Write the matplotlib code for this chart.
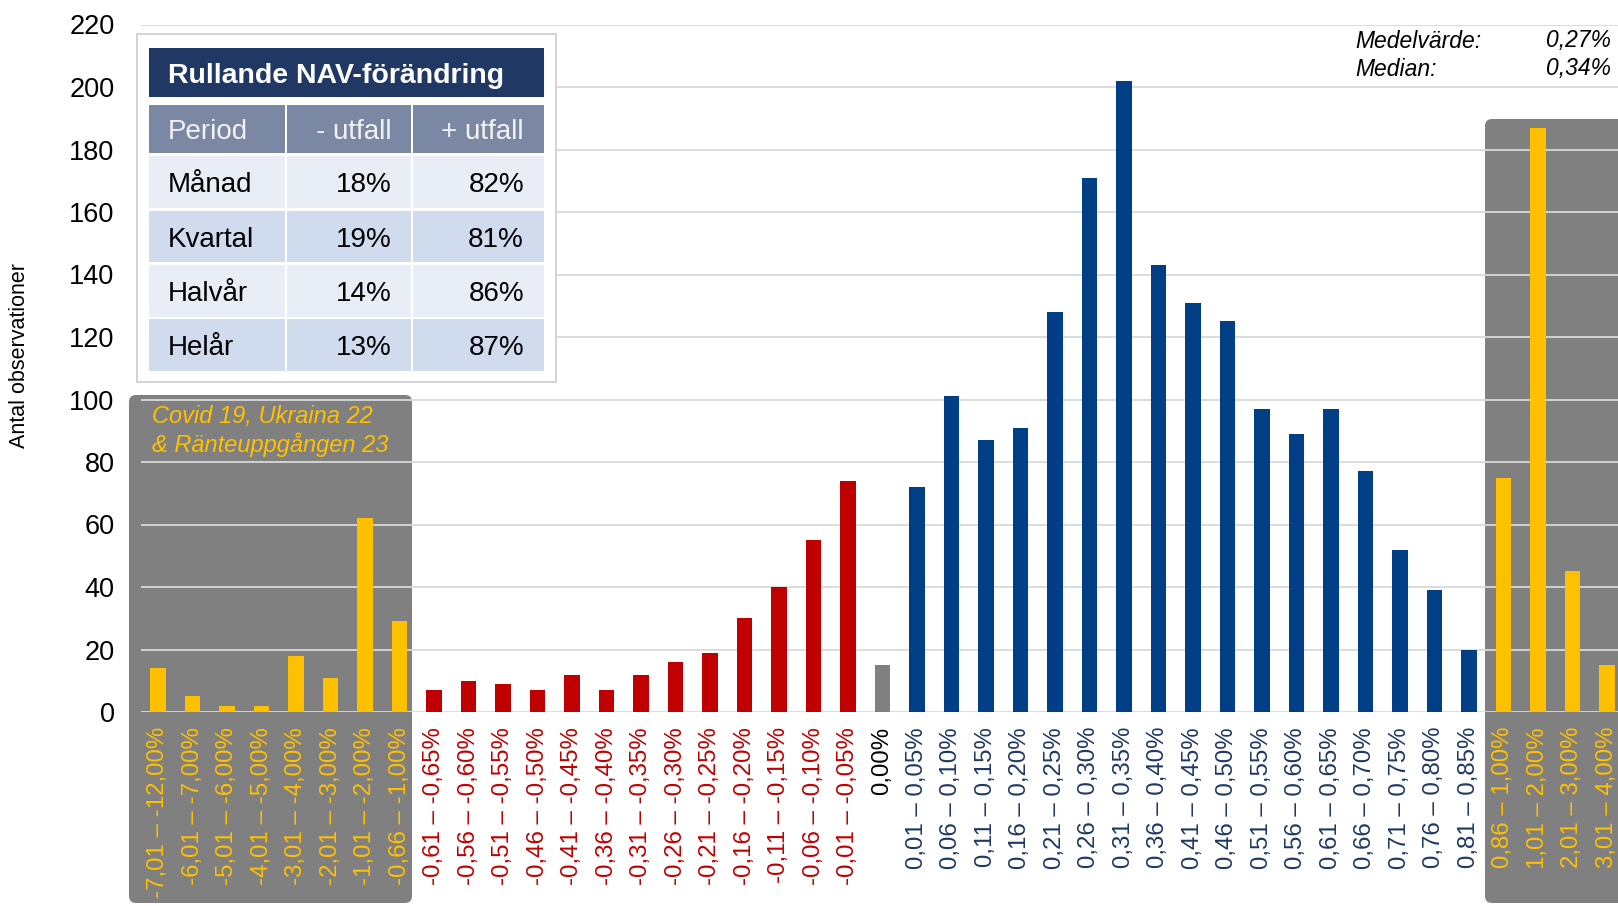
import numpy as np
import matplotlib
matplotlib.use('Agg')
import matplotlib.pyplot as plt
from matplotlib.patches import Rectangle, FancyBboxPatch

plt.rcParams['font.family'] = ['Liberation Sans', 'DejaVu Sans']

# ── data ─────────────────────────────────────────────────────
tail_neg_labels = ["-7,01 – -12,00%", "-6,01 – -7,00%", "-5,01 – -6,00%", "-4,01 – -5,00%",
                   "-3,01 – -4,00%", "-2,01 – -3,00%", "-1,01 – -2,00%", "-0,66 – -1,00%"]
tail_neg_counts = [14, 5, 2, 2, 18, 11, 62, 29]

neg_labels = ["-0,61 – -0,65%", "-0,56 – -0,60%", "-0,51 – -0,55%", "-0,46 – -0,50%",
              "-0,41 – -0,45%", "-0,36 – -0,40%", "-0,31 – -0,35%", "-0,26 – -0,30%",
              "-0,21 – -0,25%", "-0,16 – -0,20%", "-0,11 – -0,15%", "-0,06 – -0,10%",
              "-0,01 – -0,05%"]
neg_counts = [7, 10, 9, 7, 12, 7, 12, 16, 19, 30, 40, 55, 74]

zero_labels = ["0,00%"]
zero_counts = [15]

pos_labels = ["0,01 – 0,05%", "0,06 – 0,10%", "0,11 – 0,15%", "0,16 – 0,20%", "0,21 – 0,25%",
              "0,26 – 0,30%", "0,31 – 0,35%", "0,36 – 0,40%", "0,41 – 0,45%", "0,46 – 0,50%",
              "0,51 – 0,55%", "0,56 – 0,60%", "0,61 – 0,65%", "0,66 – 0,70%", "0,71 – 0,75%",
              "0,76 – 0,80%", "0,81 – 0,85%"]
pos_counts = [72, 101, 87, 91, 128, 171, 202, 143, 131, 125, 97, 89, 97, 77, 52, 39, 20]

tail_pos_labels = ["0,86 – 1,00%", "1,01 – 2,00%", "2,01 – 3,00%", "3,01 – 4,00%"]
tail_pos_counts = [75, 187, 45, 15]

table_title = "Rullande NAV-förändring"
table_head  = ["Period", "- utfall", "+ utfall"]
periods     = ["Månad", "Kvartal", "Halvår", "Helår"]
neg_share   = ["18%", "19%", "14%", "13%"]
pos_share   = ["82%", "81%", "86%", "87%"]

stat_names  = ["Medelvärde:", "Median:"]
stat_values = ["0,27%", "0,34%"]

# ── colours ──────────────────────────────────────────────────
YELLOW = '#FFC000'
RED    = '#C00000'
BLUE   = '#003E86'
GREY   = '#808080'
BLUE_TXT = '#1F3864'

groups = [
    (tail_neg_labels, tail_neg_counts, YELLOW, YELLOW),
    (neg_labels,      neg_counts,      RED,    RED),
    (zero_labels,     zero_counts,     GREY,   'black'),
    (pos_labels,      pos_counts,      BLUE,   BLUE_TXT),
    (tail_pos_labels, tail_pos_counts, YELLOW, YELLOW),
]
labels, counts, bar_cols, txt_cols = [], [], [], []
for lab, cnt, bc, tc in groups:
    labels += lab
    counts += cnt
    bar_cols += [bc] * len(lab)
    txt_cols += [tc] * len(lab)
x = np.arange(len(labels))

# ── figure ───────────────────────────────────────────────────
W, H = 1618, 906
fig = plt.figure(figsize=(W / 100, H / 100), dpi=100)

def pixel_axes(z):
    a = fig.add_axes([0, 0, 1, 1], zorder=z)
    a.set_xlim(0, W)
    a.set_ylim(H, 0)
    a.axis('off')
    return a

bg = pixel_axes(0)
ax = fig.add_axes([141 / W, 1 - 712 / H, (1624 - 141) / W, (712 - 24.5) / H], zorder=1)
fg = pixel_axes(2)

# grey bands behind the tails
bg.add_patch(FancyBboxPatch((129, 395), 412 - 129, 903 - 395,
                            boxstyle='round,pad=0,rounding_size=7', fc=GREY, ec='none'))
bg.add_patch(FancyBboxPatch((1485, 119), 200, 903 - 119,
                            boxstyle='round,pad=0,rounding_size=7', fc=GREY, ec='none'))

# bars
ax.set_facecolor('none')
ax.bar(x, counts, width=0.45, color=bar_cols, zorder=3)
ax.set_xlim(-0.5, len(labels) - 0.5)
ax.set_ylim(0, 220)
ax.set_yticks(range(0, 221, 20))
ax.set_xticks(x)
ax.set_xticklabels(labels, rotation=90, fontsize=17.3)
for t, c in zip(ax.get_xticklabels(), txt_cols):
    t.set_color(c)
ax.tick_params(axis='x', length=0, pad=10.8)
ax.tick_params(axis='y', length=0, pad=19, labelsize=19.5)
ax.grid(axis='y', color='#d9d9d9', linewidth=1.3)
ax.set_axisbelow(True)
for s in ax.spines.values():
    s.set_visible(False)

# y label
fg.text(20, 355, "Antal observationer", rotation=90, ha='center', va='center', fontsize=15.5)

# annotation in left band
fg.text(152, 423, "Covid 19, Ukraina 22", color=YELLOW, style='italic', fontsize=17, va='baseline')
fg.text(152, 452, "& Ränteuppgången 23", color=YELLOW, style='italic', fontsize=17, va='baseline')

# mean / median
for i, (n, v) in enumerate(zip(stat_names, stat_values)):
    yb = 47.5 + i * 28
    fg.text(1355, yb, n, style='italic', fontsize=16.5, va='baseline')
    fg.text(1611, yb, v, style='italic', fontsize=16.5, va='baseline', ha='right')

# ── table ────────────────────────────────────────────────────
fg.add_patch(Rectangle((137.5, 34), 556 - 137.5, 382 - 34, fc='white', ec='#d0d0d0', lw=1.3))
fg.add_patch(Rectangle((149, 47.7), 544 - 149, 96.7 - 47.7, fc='#203864', ec='none'))
fg.text(168, 83.3, table_title, color='white', fontweight='bold', fontsize=20.5, va='baseline')

col_x = [(149, 285), (287.5, 411), (413.5, 544)]
row_y = [(105, 153.3), (156, 208.3), (211, 262.3), (265, 316.7), (319.3, 371)]
row_fill = ['#7A88A4', '#E9EDF5', '#D0DBEE', '#E9EDF5', '#D0DBEE']
text_x = [(168, 'left'), (392, 'right'), (524, 'right')]

rows = [table_head] + [list(r) for r in zip(periods, neg_share, pos_share)]
for r, (vals, (y0, y1)) in enumerate(zip(rows, row_y)):
    for c, (val, (x0, x1)) in enumerate(zip(vals, col_x)):
        fg.add_patch(Rectangle((x0, y0), x1 - x0, y1 - y0, fc=row_fill[r], ec='none'))
        tx, ha = text_x[c]
        fg.text(tx, (y0 + y1) / 2 + 10, val, ha=ha, va='baseline', fontsize=20,
                color='#F2F2F2' if r == 0 else 'black')

fig.savefig("out.png", dpi=100)
